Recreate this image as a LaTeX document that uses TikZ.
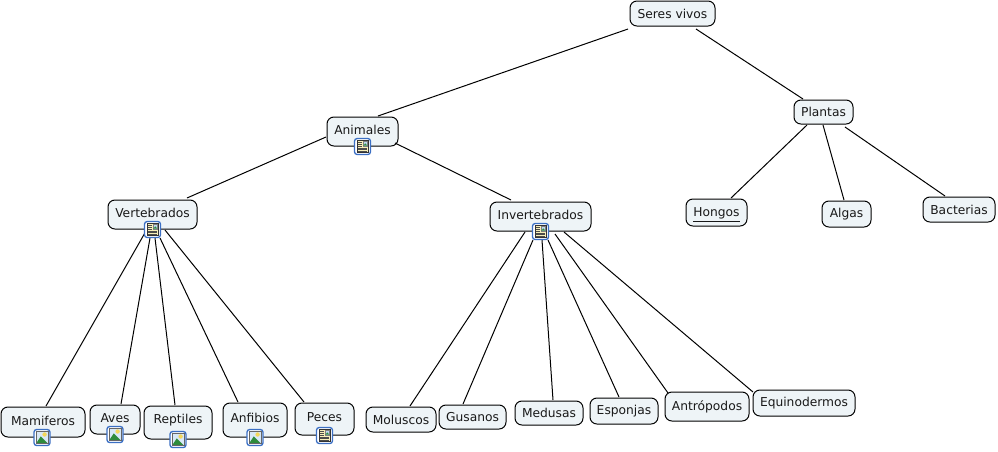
\documentclass[tikz,border=0pt]{standalone}
\usepackage{fontspec}
\setmainfont{DejaVu Sans}
\definecolor{nodefill}{HTML}{EEF4F7}
\definecolor{iconblue}{HTML}{3B6FC4}
\definecolor{pagecream}{HTML}{F7EFB8}
\definecolor{hillgreen}{HTML}{2E8B3C}
\definecolor{skyblue}{HTML}{BFD8F2}
\definecolor{sunyellow}{HTML}{F4D75A}
\tikzset{
  concept/.style={draw=black,fill=nodefill,rounded corners=5.2pt,line width=0.75pt,inner sep=0pt,
    font=\fontsize{9.2pt}{11pt}\selectfont,text=black!90},
  link/.style={draw=black,line width=0.75pt},
  iconframe/.style={draw=iconblue,fill=white,rounded corners=2pt,line width=1pt},
  pics/docicon/.style={code={
    \draw[iconframe] (-8,-8) rectangle (8,8);
    \fill[pagecream,draw=black!80,line width=0.4pt] (-5.5,-6) rectangle (5.5,6);
    \fill[skyblue,draw=black!50,line width=0.3pt] (0.5,-5.5) rectangle (5,-0.5);
    \fill[hillgreen] (0.8,-0.8) -- (2.8,-3.2) -- (4.8,-0.8) -- cycle;
    \draw[black!70,line width=0.35pt] (-4.5,-4)--(-0.5,-4) (-4.5,-2.2)--(-0.5,-2.2) (-4.5,-0.4)--(-0.5,-0.4) (-4.5,1.4)--(4.5,1.4) (-4.5,3.2)--(4.5,3.2) (-4.5,4.8)--(4.5,4.8);
  }},
  pics/imgicon/.style={code={
    \draw[iconframe] (-8,-8) rectangle (8,8);
    \fill[skyblue!60] (-6,-6) rectangle (6,6);
    \fill[sunyellow] (2.6,-3) circle (2.2);
    \fill[hillgreen] (-6,6) -- (-1.2,-1.2) -- (6,6) -- cycle;
    \draw[black!60,line width=0.3pt] (-6,-6) rectangle (6,6);
  }},
}
\newcommand{\cnode}[6]{\node[concept,minimum width=#4*0.75pt,minimum height=#5*0.75pt] (#1) at (#2,#3) {#6};}
\newcommand{\lnk}[4]{\draw[link] ([shift={(#2)}]#1.center) -- ([shift={(#4)}]#3.center);}
\begin{document}
\begin{tikzpicture}[x=0.75pt,y=-0.75pt]
\useasboundingbox (0,0) rectangle (998,451);
\fill[white] (0,0) rectangle (998,451);
\cnode{seres}{672.5}{13.5}{85}{25}{Seres vivos}
\cnode{plantas}{823.5}{112}{59}{24}{Plantas}
\cnode{animales}{362.5}{131.5}{71}{29}{\raisebox{3pt}{Animales}}
\cnode{vert}{152.5}{214.5}{89}{29}{\raisebox{2.5pt}{Vertebrados}}
\cnode{inv}{540.5}{216.5}{101}{29}{\raisebox{2.5pt}{Invertebrados}}
\cnode{hongos}{716.5}{212.5}{61}{27}{\raisebox{-3pt}[0pt][0pt]{\underline{Hongos}}}
\cnode{algas}{846.5}{214}{49}{26}{Algas}
\cnode{bact}{959}{209.5}{72}{25}{Bacterias}
\cnode{mam}{43}{422}{84}{30}{\raisebox{2.5pt}{Mamiferos}}
\cnode{aves}{115}{419.5}{50}{29}{\raisebox{2pt}{Aves}}
\cnode{rept}{178}{422.5}{68}{33}{\raisebox{5.5pt}{Reptiles}}
\cnode{anf}{255}{420}{64}{34}{\raisebox{3pt}{Anfibios}}
\cnode{peces}{324.5}{419}{59}{32}{\raisebox{2.5pt}{Peces}}
\cnode{mol}{401}{419.5}{70}{25}{Moluscos}
\cnode{gus}{472.5}{417}{67}{24}{Gusanos}
\cnode{med}{549}{413}{68}{24}{Medusas}
\cnode{esp}{624}{411}{68}{26}{Esponjas}
\cnode{ant}{707}{406.5}{84}{29}{Antrópodos}
\cnode{equ}{804}{403}{102}{26}{Equinodermos}
\lnk{seres}{-44.5,15.5}{animales}{15.5,-15.5}
\lnk{seres}{23.5,15.5}{plantas}{-20.5,-13}
\lnk{animales}{-36.5,5.5}{vert}{34.5,-16.5}
\lnk{animales}{32.5,11.5}{inv}{-29.5,-16.5}
\lnk{plantas}{-16.5,13}{hongos}{14.5,-14.5}
\lnk{plantas}{-0.5,13}{algas}{-2.5,-14}
\lnk{plantas}{21.5,15}{bact}{-14,-13.5}
\lnk{vert}{-6.5,16.5}{mam}{3,-16}
\lnk{vert}{-2.5,23.5}{aves}{6,-15.5}
\lnk{vert}{2.5,23.5}{rept}{-3,-17.5}
\lnk{vert}{7.5,23.5}{anf}{-17,-18}
\lnk{vert}{12.5,15.5}{peces}{-20.5,-17}
\lnk{inv}{-15.5,15.5}{mol}{9,-13.5}
\lnk{inv}{-7.5,23.5}{gus}{-9.5,-13}
\lnk{inv}{1.5,23.5}{med}{4,-13}
\lnk{inv}{7.5,23.5}{esp}{-5,-14}
\lnk{inv}{14.5,17.5}{ant}{-39,-13.5}
\lnk{inv}{23.5,15.5}{equ}{-51,-11}
\pic at (animales.south) {docicon};
\pic at (vert.south) {docicon};
\pic at (inv.south) {docicon};
\pic at (peces.south) {docicon};
\pic at ([xshift=-0.75pt]mam.south) {imgicon};
\pic at (aves.south) {imgicon};
\pic at (rept.south) {imgicon};
\pic at (anf.south) {imgicon};
\end{tikzpicture}
\end{document}
